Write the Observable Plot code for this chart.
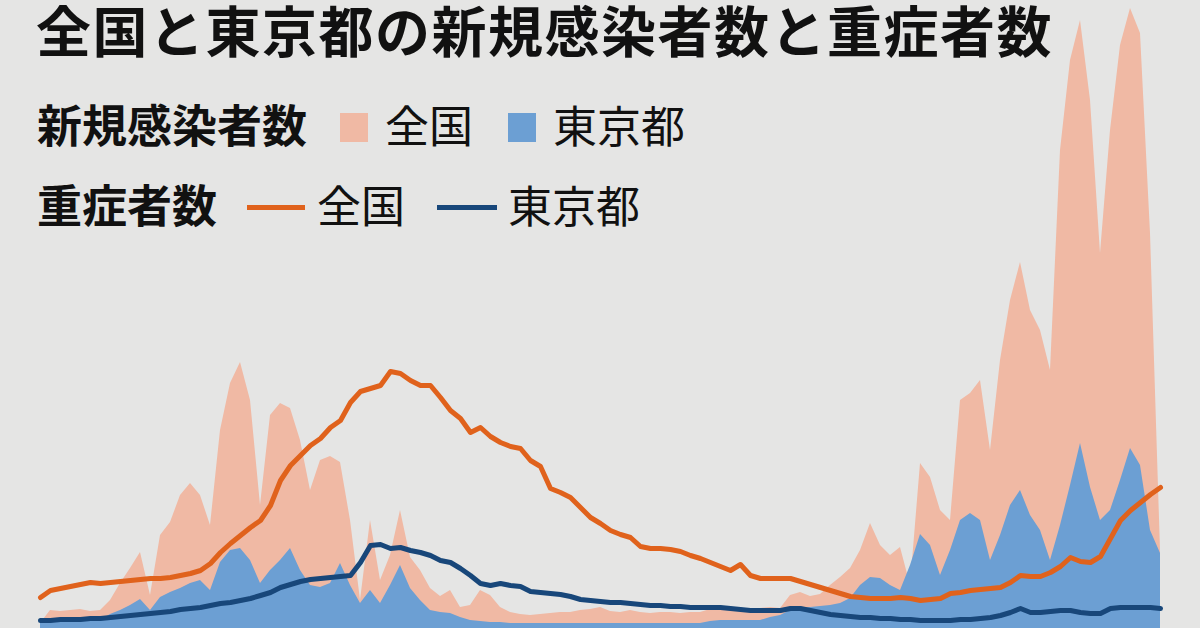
<!DOCTYPE html>
<html>
<head>
<meta charset="utf-8">
<script src="https://cdn.jsdelivr.net/npm/d3@7"></script>
<script src="https://cdn.jsdelivr.net/npm/@observablehq/plot@0.6"></script>
<style>
  html, body { margin: 0; padding: 0; background: #e5e5e4; }
  #wrap { position: relative; width: 1200px; height: 628px; overflow: hidden; background: #e5e5e4;
          font-family: "Noto Sans CJK JP", "Noto Sans", sans-serif; color: #111; }
  #chart { position: absolute; left: 0; top: 0; }
  .t { position: absolute; white-space: nowrap; line-height: 1; }
  .title { font-family: "DejaVu Sans", "Noto Sans CJK JP", sans-serif; font-size: 55px; font-weight: 700; letter-spacing: 1.5px; }
  .head { font-size: 45px; font-weight: 700; }
  .lab { font-size: 44px; font-weight: 400; }
  .sw { position: absolute; }
</style>
</head>
<body>
<div id="wrap">
  <div id="chart"></div>
  <div class="t title" id="title" style="left:36px; top:6px;"></div>
  <div class="t head" id="h1" style="left:37px; top:101px;"></div>
  <div class="sw" id="sw1" style="left:340px; top:113px; width:28px; height:29px;"></div>
  <div class="t lab" id="l1" style="left:385px; top:102px;"></div>
  <div class="sw" id="sw2" style="left:508px; top:113px; width:28px; height:29px;"></div>
  <div class="t lab" id="l2" style="left:553px; top:102px;"></div>
  <div class="t head" id="h2" style="left:37px; top:181px;"></div>
  <div class="sw" id="sw3" style="left:247px; top:205px; width:58px; height:5px;"></div>
  <div class="t lab" id="l3" style="left:317px; top:182px;"></div>
  <div class="sw" id="sw4" style="left:437px; top:205px; width:60px; height:5px;"></div>
  <div class="t lab" id="l4" style="left:508px; top:182px;"></div>
</div>
<script>
// ---- text ----
const titleText = "全国と東京都の新規感染者数と重症者数";
const casesHeader = "新規感染者数";
const severeHeader = "重症者数";
const seriesNames = ["全国", "東京都"];

// ---- colours ----
const colors = { nationalCases: "#f0b9a4", tokyoCases: "#6c9fd3", nationalSevere: "#e0621c", tokyoSevere: "#18477a" };

// ---- data (relative chart units, one value per time step) ----
const nationalCases = [
  5,18,17,18,19,17,18,28,45,60,
  76,33,93,106,133,145,133,103,198,245,
  266,228,123,213,225,220,188,138,168,172,
  166,108,28,108,48,73,118,71,58,40,
  32,38,21,23,38,33,21,16,14,13,
  14,15,16,16,18,19,21,17,16,18,
  16,15,16,16,15,16,16,19,20,20,
  19,18,20,21,20,33,36,32,34,43,
  51,60,78,105,83,73,81,43,165,151,
  118,108,228,235,248,178,268,328,366,318,
  298,258,478,568,608,528,375,498,583,620,
  595,395,78
];
const tokyoCases = [
  5,6,6,6,7,7,8,14,18,23,
  29,18,31,36,40,45,48,38,66,78,
  80,68,45,58,68,80,58,43,41,45,
  65,43,25,38,25,43,63,40,28,18,
  16,15,11,8,7,6,6,5,5,5,
  5,5,5,5,5,5,5,5,5,5,
  5,5,5,5,5,5,5,7,8,8,
  8,8,8,11,13,18,20,21,22,23,
  25,30,43,51,50,43,38,63,94,83,
  53,78,108,115,108,68,93,123,138,113,
  98,68,103,143,185,141,108,118,148,180,
  163,98,75
];
const nationalSevere = [
  31,38,40,42,44,46,45,46,47,48,
  49,50,50,51,53,55,58,65,76,85,
  93,101,108,123,148,163,173,183,190,201,
  208,226,237,240,243,257,255,248,243,243,
  231,218,210,196,201,192,186,182,180,168,
  162,140,136,131,121,111,105,98,94,91,
  82,80,80,79,77,73,70,66,62,58,
  64,53,50,50,50,50,47,44,41,38,
  35,32,31,30,30,30,31,30,28,29,
  30,35,36,38,39,40,41,46,53,52,
  52,56,62,71,67,66,72,90,108,118,
  126,134,141
];
const tokyoSevere = [
  8,8,9,9,9,10,10,11,12,13,
  14,15,16,17,19,20,21,23,25,26,
  28,30,33,36,41,44,47,49,50,51,
  52,53,66,83,84,80,81,78,76,73,
  68,66,60,53,45,43,45,43,42,37,
  36,35,34,32,29,28,27,26,26,25,
  24,23,23,22,22,21,21,21,21,20,
  19,18,18,18,18,20,20,18,16,14,
  13,12,11,11,10,10,9,9,8,8,
  8,8,9,9,10,11,13,16,20,16,
  16,17,18,18,16,15,15,20,21,21,
  21,21,20
];

const rows = nationalCases.map((v, i) => ({
  t: i, nc: v, tc: tokyoCases[i], ns: nationalSevere[i], ts: tokyoSevere[i]
}));

const chart = Plot.plot({
  width: 1200,
  height: 628,
  marginLeft: 40, marginRight: 40, marginTop: 0, marginBottom: 0,
  style: { background: "transparent", overflow: "visible" },
  x: { domain: [0, rows.length - 1], axis: null },
  y: { domain: [0, 628], axis: null },
  marks: [
    Plot.areaY(rows, { x: "t", y: "nc", fill: colors.nationalCases }),
    Plot.areaY(rows, { x: "t", y: "tc", fill: colors.tokyoCases }),
    Plot.lineY(rows, { x: "t", y: "ns", stroke: colors.nationalSevere, strokeWidth: 5, strokeLinejoin: "round", strokeLinecap: "round" }),
    Plot.lineY(rows, { x: "t", y: "ts", stroke: colors.tokyoSevere, strokeWidth: 5, strokeLinejoin: "round", strokeLinecap: "round" })
  ]
});
document.getElementById("chart").appendChild(chart);

document.getElementById("title").textContent = titleText;
document.getElementById("h1").textContent = casesHeader;
document.getElementById("h2").textContent = severeHeader;
document.getElementById("l1").textContent = seriesNames[0];
document.getElementById("l2").textContent = seriesNames[1];
document.getElementById("l3").textContent = seriesNames[0];
document.getElementById("l4").textContent = seriesNames[1];
document.getElementById("sw1").style.background = colors.nationalCases;
document.getElementById("sw2").style.background = colors.tokyoCases;
document.getElementById("sw3").style.background = colors.nationalSevere;
document.getElementById("sw4").style.background = colors.tokyoSevere;
</script>
</body>
</html>
